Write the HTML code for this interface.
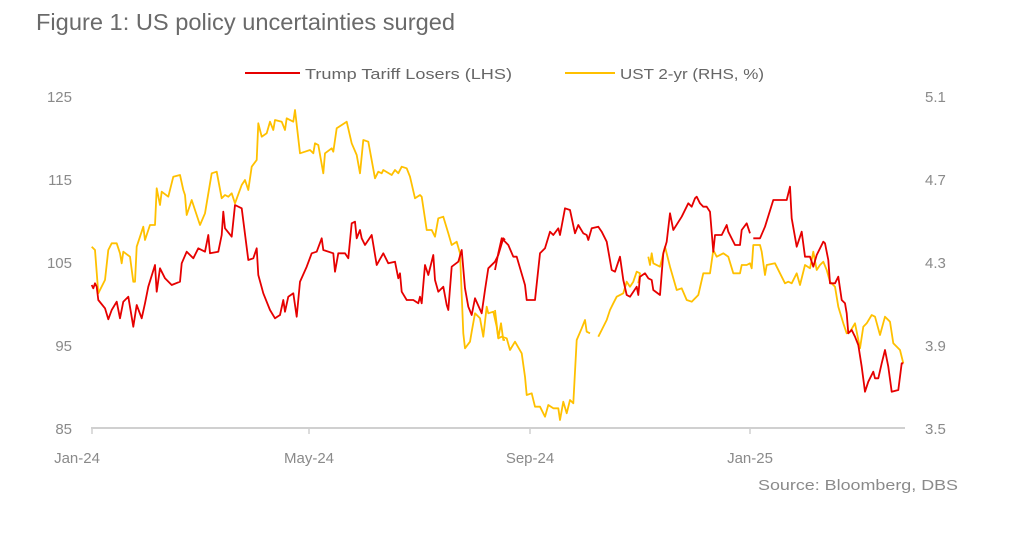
<!DOCTYPE html>
<html><head><meta charset="utf-8"><style>
body{margin:0;background:#fff;width:1014px;height:541px;overflow:hidden;font-family:"Liberation Sans",sans-serif}
</style></head><body>
<svg width="1014" height="541" xmlns="http://www.w3.org/2000/svg" font-family="Liberation Sans, sans-serif">
<text x="36" y="30" font-size="23" fill="#6a6a6a" textLength="419" lengthAdjust="spacingAndGlyphs">Figure 1: US policy uncertainties surged</text>
<line x1="245" y1="73" x2="300" y2="73" stroke="#e60000" stroke-width="2"/>
<text x="305" y="79" font-size="15" fill="#666" textLength="207" lengthAdjust="spacingAndGlyphs">Trump Tariff Losers (LHS)</text>
<line x1="565" y1="73" x2="615" y2="73" stroke="#ffc000" stroke-width="2"/>
<text x="620" y="79" font-size="15" fill="#666" textLength="144" lengthAdjust="spacingAndGlyphs">UST 2-yr (RHS, %)</text>
<g font-size="15" fill="#8a8a8a" text-anchor="end">
<text x="72" y="102">125</text><text x="72" y="185">115</text><text x="72" y="268">105</text><text x="72" y="351">95</text><text x="72" y="434">85</text>
</g>
<g font-size="15" fill="#8a8a8a">
<text x="925" y="102">5.1</text><text x="925" y="185">4.7</text><text x="925" y="268">4.3</text><text x="925" y="351">3.9</text><text x="925" y="434">3.5</text>
</g>
<line x1="91" y1="428" x2="905" y2="428" stroke="#d0d0d0" stroke-width="2"/>
<g stroke="#d0d0d0" stroke-width="1.5"><line x1="92" y1="428" x2="92" y2="434"/><line x1="309" y1="428" x2="309" y2="434"/><line x1="530" y1="428" x2="530" y2="434"/><line x1="750" y1="428" x2="750" y2="434"/></g>
<g font-size="15" fill="#8a8a8a" text-anchor="middle">
<text x="77" y="463">Jan-24</text><text x="309" y="463">May-24</text><text x="530" y="463">Sep-24</text><text x="750" y="463">Jan-25</text>
</g>
<text x="758" y="490" font-size="15" fill="#8a8a8a" textLength="200" lengthAdjust="spacingAndGlyphs">Source: Bloomberg, DBS</text>
<g id="series" fill="none" stroke-width="1.8" stroke-linejoin="round"></g>
</svg>
<script>
function conv(ox,oy,a){return a.map(p=>(ox+p[0]/3).toFixed(1)+","+(oy+p[1]/3).toFixed(1)).join(" ");}
var y1=[[20,440],[30,450],[40,580],[60,540],[70,450],[80,430],[95,430],[105,460],[110,490],[115,455],[135,470],[145,545],[150,545],[155,440],[165,410],[175,380],[180,420],[195,375],[210,375],[215,265],[225,315],[230,275],[250,290],[265,230],[285,225],[295,270],[300,285],[305,345],[320,300],[330,330],[345,375],[360,340],[380,220],[395,215],[410,295],[420,285],[430,290],[440,280],[450,310],[470,255],[480,240],[490,270],[500,200],[515,180],[520,70],[530,110],[545,100],[555,65],[565,90],[570,60],[590,65],[600,90],[605,55],[625,65],[630,30],[645,160],[660,155],[675,150],[685,160],[690,130],[700,135],[715,220],[720,160],[740,145],[745,155],[755,85],[785,65],[800,130],[815,165],[825,220],[835,120],[850,125],[870,235],[880,215],[890,220],[895,210],[920,225],[930,210],[940,220],[950,200],[965,205],[975,230],[990,295],[1005,285],[1010,290],[1025,390],[1040,390],[1050,410],[1060,355],[1075,350],[1090,400],[1100,435],[1115,425],[1125,460],[1135,700],[1140,745],[1155,725],[1160,695],[1170,640],[1185,655],[1195,710],[1205,620],[1210,640],[1225,635],[1235,680],[1240,715],[1248,670],[1255,720],[1260,720]];
var y2a=[[0,630],[10,715],[20,710],[35,715],[45,750],[60,725],[80,760],[90,830],[95,885],[110,880],[120,920],[135,920],[150,950],[160,915],[175,925],[190,925],[195,960],[205,905],[215,940],[225,900],[235,910],[245,720],[260,685],[270,660],[275,695],[285,700]];
var y2b=[[310,710],[320,690],[335,660],[345,630],[355,610],[365,590],[385,580],[395,545],[405,560],[415,545],[425,515],[435,520],[430,550]];
var y2c=[[460,470],[465,495],[470,460],[475,490],[495,500],[510,440],[525,500],[545,570],[560,565],[575,600],[590,605],[610,585],[625,520],[645,520],[655,450],[665,470],[685,460],[700,470],[715,520],[735,520],[740,495],[755,495],[765,490],[770,505],[775,435],[795,435],[800,455],[810,525],[815,495],[840,490],[855,520],[870,550],[880,545],[890,550],[905,520],[915,555],[930,495],[945,505],[955,455],[965,510],[975,495],[985,485],[995,510],[1005,545],[1020,560],[1030,620],[1045,670],[1055,700],[1065,695],[1080,670],[1095,745],[1105,680],[1115,670],[1130,645],[1140,650],[1155,705],[1170,650],[1185,665],[1195,730],[1215,750],[1225,790]];
var r1=[[20,555],[25,565],[30,550],[35,560],[40,600],[60,625],[70,658],[80,630],[95,605],[105,655],[115,605],[130,590],[145,680],[155,615],[170,655],[180,610],[190,560],[210,495],[215,575],[225,505],[240,535],[260,555],[285,545],[290,490],[305,455],[325,475],[340,445],[360,455],[370,405],[375,460],[400,455],[410,405],[415,335],[420,385],[440,410],[450,315],[470,325],[490,480],[505,475],[515,445],[520,525],[535,580],[555,630],[570,655],[585,645],[595,600],[600,635],[610,590],[625,580],[635,650],[645,545],[665,500],[680,460],[695,455],[710,415],[715,450],[745,460],[750,515],[760,460],[780,460],[790,475],[800,370],[810,365],[815,415],[825,390],[830,415],[840,435],[860,405],[875,495],[895,460],[910,490],[930,485],[940,535],[945,520],[950,575],[965,600],[985,600],[1000,610],[1005,590],[1010,610],[1020,495],[1030,525],[1045,465],[1050,540],[1060,575],[1075,560],[1085,615],[1090,630],[1100,500],[1120,485],[1130,450],[1140,565],[1150,620],[1160,645],[1170,595],[1190,640],[1200,570],[1210,505],[1230,485],[1240,465],[1255,415],[1260,420]];
var r2a=[[0,510],[10,460],[20,415],[40,435],[55,470],[65,470],[90,555],[95,600],[115,600],[120,600],[135,460],[150,445],[165,395],[175,405],[190,385],[195,405],[210,325],[225,330],[240,400],[250,375],[265,400],[275,405],[280,420],[290,385],[310,380],[320,395],[335,425],[350,510],[360,515],[375,470],[385,540],[395,585],[405,590],[425,560],[430,585],[435,530],[450,520],[460,535],[470,540],[475,570],[495,585],[505,460],[515,425],[525,340],[535,390],[560,350],[580,310],[590,320],[600,295],[605,290],[615,310],[625,320],[635,320],[645,335],[655,455],[660,405],[680,405],[695,375],[700,395],[720,435],[735,435],[740,390],[755,370],[765,400]];
var r2b=[[775,415],[795,415],[810,380],[835,300],[850,300],[875,300],[885,260],[890,355],[905,440],[920,395],[930,470],[945,470],[955,500],[965,465],[985,425],[990,430],[1000,480],[1005,550],[1020,550],[1030,530],[1040,600],[1050,610],[1055,640],[1060,700],[1070,690],[1080,710],[1090,735],[1100,800],[1110,875],[1120,845],[1135,815],[1140,835],[1150,835],[1160,790],[1170,750],[1180,800],[1190,875],[1210,870],[1220,790],[1225,790]];
var g=document.getElementById("series"),h="";
[[85,y1],[495,y2a],[495,y2b],[495,y2c]].forEach(s=>{h+='<polyline stroke="#ffc000" points="'+conv(s[0],100,s[1])+'"/>';});
[[85,r1],[495,r2a],[495,r2b]].forEach(s=>{h+='<polyline stroke="#e60000" points="'+conv(s[0],100,s[1])+'"/>';});
g.innerHTML=h;
</script>
</body></html>
